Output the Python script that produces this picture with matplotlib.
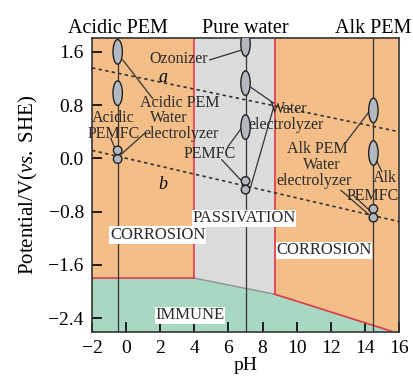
import matplotlib
matplotlib.use('Agg')
import matplotlib.pyplot as plt
from matplotlib.patches import Ellipse

plt.rcParams['font.family'] = 'Liberation Serif'
plt.rcParams['mathtext.fontset'] = 'custom'
plt.rcParams['mathtext.rm'] = 'Liberation Serif'
plt.rcParams['mathtext.it'] = 'Liberation Serif:italic'

# region boundaries (pH, potential)
acid_edge = 4.0
alk_edge = 8.7
immune_x = [-2, 4, 8.7, 15.6]
immune_y = [-1.8, -1.8, -2.04, -2.6]

# water stability lines a and b
line_a_x = [-2, 16]
line_a_y = [1.36, 0.40]
line_b_x = [-2, 16]
line_b_y = [0.12, -0.95]

# device columns
col_ph = [-0.5, 7.0, 14.5]
col_names = ['Acidic PEM', 'Pure water', 'Alk PEM']

# large ellipses (pH, potential) and small circle pairs
big_ph = [-0.5, -0.5, 7.0, 7.0, 7.0, 14.5, 14.5]
big_pot = [1.6, 0.98, 1.72, 1.13, 0.47, 0.72, 0.08]
small_ph = [-0.5, -0.5, 7.0, 7.0, 14.5, 14.5]
small_pot = [0.12, -0.01, -0.34, -0.47, -0.76, -0.89]

# leader lines: (x0, y0, x1, y1)
leaders = [
    (4.9, 1.48, 6.8, 1.63),
    (-0.2, 1.48, 1.55, 0.9),
    (-0.9, 0.3, -0.55, 0.08),
    (-0.3, 0.06, 1.1, 0.38),
    (7.3, 1.07, 8.65, 0.83),
    (8.65, 0.77, 7.3, -0.43),
    (6.75, 0.45, 5.95, 0.17),
    (5.6, -0.02, 6.85, -0.36),
    (14.3, 0.72, 12.85, 0.23),
    (14.65, -0.02, 15.0, -0.2),
    (12.6, -0.48, 14.3, -0.86),
    (13.3, -0.55, 14.35, -0.8),
]

# labels: (pH, potential, text)
labels = [
    (3.1, 1.5, 'Ozonizer'),
    (3.15, 0.83, 'Acidic PEM'),
    (2.5, 0.6, 'Water'),
    (3.2, 0.37, 'electrolyzer'),
    (-0.75, 0.6, 'Acidic'),
    (-0.75, 0.37, 'PEMFC'),
    (4.9, 0.06, 'PEMFC'),
    (9.55, 0.74, 'Water'),
    (9.4, 0.5, 'electrolyzer'),
    (11.2, 0.14, 'Alk PEM'),
    (11.5, -0.1, 'Water'),
    (11.0, -0.34, 'electrolyzer'),
    (15.2, -0.3, 'Alk'),
    (14.45, -0.57, 'PEMFC'),
]
regions = [
    (1.85, -1.15, 'CORROSION'),
    (6.9, -0.9, 'PASSIVATION'),
    (11.6, -1.38, 'CORROSION'),
    (3.75, -2.36, 'IMMUNE'),
]

orange = '#F4BE89'
grey = '#DCDCDC'
green = '#A8D8C1'
red = '#E0394A'

fig = plt.figure(figsize=(4.13, 3.83), dpi=100)
ax = fig.add_axes([0.223, 0.133, 0.743, 0.768])
xmin, xmax, ymin, ymax = -2, 16, -2.61, 1.81

ax.fill_between([xmin, acid_edge], immune_y[0], ymax, color=orange, lw=0)
ax.fill_between(immune_x[1:3], immune_y[1:3], ymax, color=grey, lw=0)
ax.fill([alk_edge, immune_x[3], xmax, xmax, alk_edge],
        [immune_y[2], immune_y[3], ymin, ymax, ymax], color=orange, lw=0)
ax.fill(immune_x + [xmin], immune_y + [ymin], color=green, lw=0)
ax.fill([immune_x[3], xmax, xmax], [ymin, ymin, immune_y[3]], color=orange, lw=0)

ax.plot(immune_x[1:3], immune_y[1:3], color='#909090', lw=1)
ax.plot(immune_x[:2], immune_y[:2], color=red, lw=1.2)
ax.plot([acid_edge, acid_edge], [immune_y[1], ymax], color=red, lw=1.2)
ax.plot([alk_edge, alk_edge], [immune_y[2], ymax], color=red, lw=1.2)
ax.plot(immune_x[2:], immune_y[2:], color=red, lw=1.2)

for ph in col_ph:
    ax.plot([ph, ph], [ymin, ymax], color='#333333', lw=0.9)

ax.plot(line_a_x, line_a_y, ls=(0, (2, 2)), color='#333333', lw=1.2)
ax.plot(line_b_x, line_b_y, ls=(0, (2, 2)), color='#333333', lw=1.2)

for x0, y0, x1, y1 in leaders:
    ax.plot([x0, x1], [y0, y1], color='#333333', lw=0.9)

for ph, pot in zip(big_ph, big_pot):
    ax.add_patch(Ellipse((ph, pot), 0.55, 0.37, fc='#B4B8C0', ec='#222222', lw=1, zorder=4))
for ph, pot in zip(small_ph, small_pot):
    ax.add_patch(Ellipse((ph, pot), 0.5, 0.13, fc='#B4B8C0', ec='#222222', lw=1, zorder=4))

for x, y, t in labels:
    ax.text(x, y, t, ha='center', va='center', fontsize=11.5, color='#2a2a2a', zorder=5)
ax.text(2.14, 1.22, 'a', style='italic', ha='center', va='center', fontsize=13, zorder=5)
ax.text(2.14, -0.4, 'b', style='italic', ha='center', va='center', fontsize=13, zorder=5)
for x, y, t in regions:
    ax.text(x, y, t, ha='center', va='center', fontsize=12, color='#2a2a2a', zorder=6,
            bbox=dict(fc='white', ec='none', pad=0.5))

for ph, name in zip(col_ph, col_names):
    ax.text(ph, 1.0, name, transform=ax.get_xaxis_transform(), ha='center', va='bottom',
            fontsize=14.5)

ax.set_xlim(xmin, xmax)
ax.set_ylim(ymin, ymax)
ax.set_xticks(range(-2, 17, 2))
ax.set_yticks([-2.4, -1.6, -0.8, 0.0, 0.8, 1.6])
ax.set_yticklabels(['\u22122.4', '\u22121.6', '\u22120.8', '0.0', '0.8', '1.6'])
ax.set_xticklabels([str(v).replace('-', '\u2212') for v in range(-2, 17, 2)])
ax.tick_params(direction='in', length=7, width=1.2, labelsize=14, pad=6)
for s in ax.spines.values():
    s.set_linewidth(1.2)
    s.set_color('#333333')
ax.set_xlabel('pH', fontsize=14, labelpad=0)
ax.set_ylabel('Potential/V($\\it{vs.}$ SHE)', fontsize=15, labelpad=6)

fig.savefig('out.png', dpi=100)
